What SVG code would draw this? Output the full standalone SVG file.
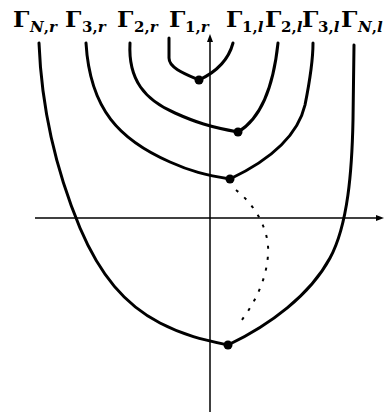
<svg xmlns="http://www.w3.org/2000/svg" width="390" height="412" viewBox="0 0 390 412">
<style>
.c{fill:none;stroke:#000;stroke-width:3;stroke-linecap:round;stroke-linejoin:round}
.ax{fill:none;stroke:#000;stroke-width:1.5}
.dot{fill:#000}
.dash{fill:none;stroke:#000;stroke-width:2;stroke-dasharray:3 8}
.G{font-family:"DejaVu Serif","Liberation Serif",serif;font-weight:bold;font-size:23px;fill:#000}
.s{font-size:15px}
.i{font-style:italic}
</style>
<rect width="390" height="412" fill="#fff"/>
<g id="axes">
<line class="ax" x1="210" y1="412" x2="210" y2="40"/>
<polygon points="210,34 207,42 213,42" fill="#000"/>
<line class="ax" x1="35" y1="218" x2="378" y2="218"/>
<polygon points="384,218 376,215 376,221" fill="#000"/>
</g>
<g id="gamma1">
<path class="c" d="M169,38 L169,58 C169,68 185,74 199,80"/>
<path class="c" d="M199,80 C214,73 228,62 233,43"/>
<circle class="dot" cx="199" cy="80" r="4.5"/>
<text class="G" x="169" y="27">Γ<tspan class="s" x="185" y="32">1,</tspan><tspan class="s i">r</tspan></text>
<text class="G" x="226" y="27">Γ<tspan class="s" x="242" y="32">1,</tspan><tspan class="s i">l</tspan></text>
</g>
<g id="gamma2">
<path class="c" d="M130,43 C128,80 145,100 175,113 C195,122 210,127 238,132"/>
<path class="c" d="M238,132 C255,122 272,100 278,43"/>
<circle class="dot" cx="238" cy="132" r="4.5"/>
<text class="G" x="117" y="27">Γ<tspan class="s" x="134" y="32">2,</tspan><tspan class="s i">r</tspan></text>
<text class="G" x="265" y="27">Γ<tspan class="s" x="281" y="32">2,</tspan><tspan class="s i">l</tspan></text>
</g>
<g id="gamma3">
<path class="c" d="M86,43 C90,110 120,140 170,162 C190,171 205,175 230,179"/>
<path class="c" d="M230,179 C270,160 298,135 305,105 C310,80 313,55 313,43"/>
<circle class="dot" cx="230" cy="179" r="4.5"/>
<text class="G" x="65" y="27">Γ<tspan class="s" x="82" y="32">3,</tspan><tspan class="s i">r</tspan></text>
<text class="G" x="302" y="27">Γ<tspan class="s" x="318" y="32">3,</tspan><tspan class="s i">l</tspan></text>
</g>
<g id="gammaN">
<path class="c" d="M39,43 C42,120 60,180 80,228 C100,275 125,305 160,323 C185,336 205,340 228,345"/>
<path class="c" d="M228,345 C270,325 310,295 330,258 C348,225 352,170 353,120 L354,45"/>
<circle class="dot" cx="228" cy="345" r="4.5"/>
<text class="G" x="13" y="27">Γ<tspan class="s i" x="30" y="32">N</tspan><tspan class="s">,</tspan><tspan class="s i">r</tspan></text>
<text class="G" x="341" y="27">Γ<tspan class="s i" x="358" y="32">N</tspan><tspan class="s">,</tspan><tspan class="s i">l</tspan></text>
</g>
<g id="connectors">
<path class="dash" d="M236,190 C255,205 270,230 268,255 C266,285 250,310 238,325"/>
</g>
</svg>
